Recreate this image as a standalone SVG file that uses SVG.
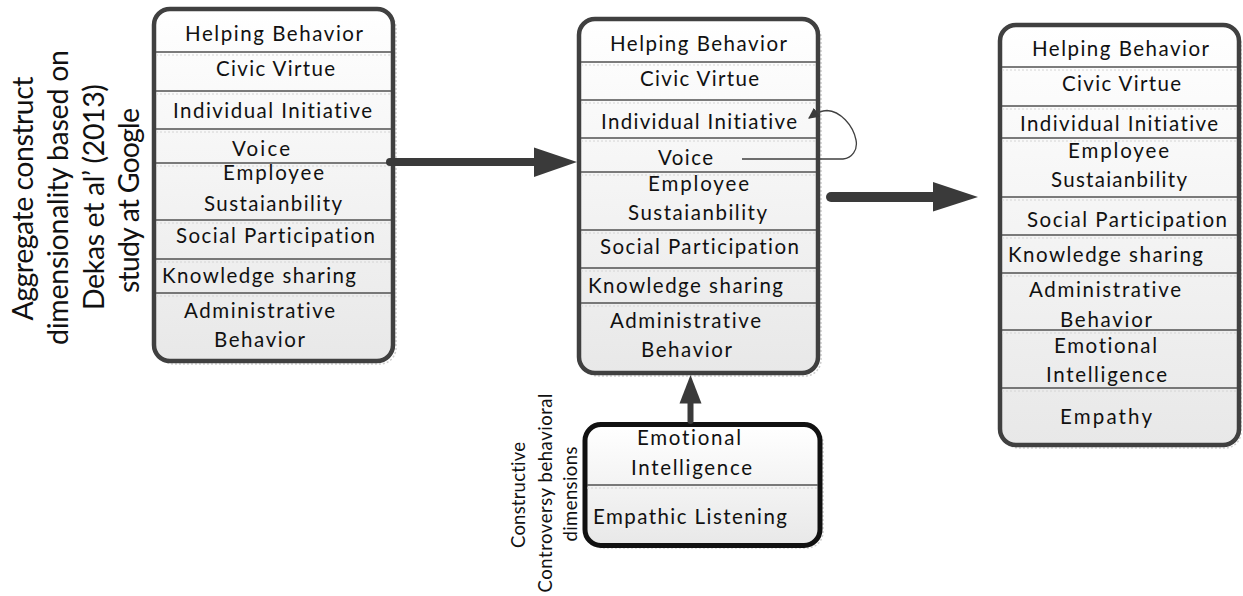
<svg xmlns="http://www.w3.org/2000/svg" width="1243" height="596" viewBox="0 0 1243 596">
<style>
text{font-variant-ligatures:none;font-feature-settings:"liga" 0,"clig" 0}
.t{font-family:Lato,"Liberation Sans",sans-serif;font-size:20.5px;fill:#111;text-anchor:middle}
.rot{font-family:Lato,"Liberation Sans",sans-serif;fill:#111;text-anchor:middle}
.box{fill:url(#g);stroke:#404040;stroke-width:4.5}
.box2{fill:url(#g);stroke:#111;stroke-width:5}
.sh{fill:none;stroke:#cfcfcf;stroke-width:1.5;stroke-dasharray:2 2}
.dv{stroke:#505050;stroke-width:1.3}
.dl{stroke:#d4d4d4;stroke-width:1;stroke-dasharray:2 2}
.shaft{stroke:#3a3a3a;stroke-linecap:round;fill:none}
.head{fill:#3a3a3a}
</style>
<defs>
<linearGradient id="g" x1="0" y1="0" x2="0" y2="1">
<stop offset="0" stop-color="#ffffff"/>
<stop offset="1" stop-color="#e8e8e8"/>
</linearGradient>
<marker id="am" viewBox="0 0 10 10" refX="9" refY="5" markerWidth="11" markerHeight="11" markerUnits="userSpaceOnUse" orient="auto">
<path d="M0,0 L10,5 L0,10 z" fill="#3a3a3a"/>
</marker>
</defs>

<g id="label-left">
<text class="rot" font-size="28.5" transform="translate(33,198.5) rotate(-90)" textLength="244" lengthAdjust="spacing">Aggregate construct</text>
<text class="rot" font-size="28.5" transform="translate(68,197.5) rotate(-90)" textLength="295" lengthAdjust="spacing">dimensionality based on</text>
<text class="rot" font-size="28.5" transform="translate(103.5,197) rotate(-90)" textLength="226" lengthAdjust="spacing">Dekas et al’ (2013)</text>
<text class="rot" font-size="28.5" transform="translate(139,200.5) rotate(-90)" textLength="185" lengthAdjust="spacing">study at Google</text>
</g>

<g id="label-bottom">
<text class="rot" font-size="18.5" transform="translate(525,495) rotate(-90)" textLength="106" lengthAdjust="spacing">Constructive</text>
<text class="rot" font-size="18.5" transform="translate(552,493) rotate(-90)" textLength="199" lengthAdjust="spacing">Controversy behavioral</text>
<text class="rot" font-size="18.5" transform="translate(577,494) rotate(-90)" textLength="95" lengthAdjust="spacing">dimensions</text>
</g>

<g id="box-left">
<rect class="sh" x="157" y="12" width="239" height="352" rx="16"/>
<rect class="box" x="154" y="9" width="239" height="352" rx="16"/>
<g>
<line class="dv" x1="156" y1="52" x2="391" y2="52"/><line class="dl" x1="156" y1="55" x2="391" y2="55"/>
<line class="dv" x1="156" y1="91" x2="391" y2="91"/><line class="dl" x1="156" y1="94" x2="391" y2="94"/>
<line class="dv" x1="156" y1="129" x2="391" y2="129"/><line class="dl" x1="156" y1="132" x2="391" y2="132"/>
<line class="dv" x1="156" y1="163" x2="391" y2="163"/><line class="dl" x1="156" y1="166" x2="391" y2="166"/>
<line class="dv" x1="156" y1="220" x2="391" y2="220"/><line class="dl" x1="156" y1="223" x2="391" y2="223"/>
<line class="dv" x1="156" y1="259" x2="391" y2="259"/><line class="dl" x1="156" y1="262" x2="391" y2="262"/>
<line class="dv" x1="156" y1="293" x2="391" y2="293"/><line class="dl" x1="156" y1="296" x2="391" y2="296"/>
</g>
<text class="t" x="274" y="41" textLength="178" lengthAdjust="spacing">Helping Behavior</text>
<text class="t" x="275.5" y="76" textLength="119" lengthAdjust="spacing">Civic Virtue</text>
<text class="t" x="272.5" y="118" textLength="199" lengthAdjust="spacing">Individual Initiative</text>
<text class="t" x="261" y="156" textLength="58" lengthAdjust="spacing">Voice</text>
<text class="t" x="273.5" y="180" textLength="101" lengthAdjust="spacing">Employee</text>
<text class="t" x="273" y="211" textLength="138" lengthAdjust="spacing">Sustaianbility</text>
<text class="t" x="275.5" y="243" textLength="199" lengthAdjust="spacing">Social Participation</text>
<text class="t" x="259" y="282.5" textLength="194" lengthAdjust="spacing">Knowledge sharing</text>
<text class="t" x="259.5" y="318" textLength="151" lengthAdjust="spacing">Administrative</text>
<text class="t" x="259.5" y="347" textLength="91" lengthAdjust="spacing">Behavior</text>
</g>

<g id="box-middle">
<rect class="sh" x="582" y="22" width="239" height="354" rx="16"/>
<rect class="box" x="579" y="19" width="239" height="354" rx="16"/>
<g>
<line class="dv" x1="581" y1="62" x2="816" y2="62"/><line class="dl" x1="581" y1="65" x2="816" y2="65"/>
<line class="dv" x1="581" y1="100" x2="816" y2="100"/><line class="dl" x1="581" y1="103" x2="816" y2="103"/>
<line class="dv" x1="581" y1="138" x2="816" y2="138"/><line class="dl" x1="581" y1="141" x2="816" y2="141"/>
<line class="dv" x1="581" y1="172" x2="816" y2="172"/><line class="dl" x1="581" y1="175" x2="816" y2="175"/>
<line class="dv" x1="581" y1="230" x2="816" y2="230"/><line class="dl" x1="581" y1="233" x2="816" y2="233"/>
<line class="dv" x1="581" y1="268" x2="816" y2="268"/><line class="dl" x1="581" y1="271" x2="816" y2="271"/>
<line class="dv" x1="581" y1="303" x2="816" y2="303"/><line class="dl" x1="581" y1="306" x2="816" y2="306"/>
</g>
<text class="t" x="698.5" y="51" textLength="177" lengthAdjust="spacing">Helping Behavior</text>
<text class="t" x="699.5" y="86" textLength="119" lengthAdjust="spacing">Civic Virtue</text>
<text class="t" x="699" y="128.5" textLength="196" lengthAdjust="spacing">Individual Initiative</text>
<text class="t" x="685.5" y="165" textLength="55" lengthAdjust="spacing">Voice</text>
<text class="t" x="698.5" y="190.5" textLength="101" lengthAdjust="spacing">Employee</text>
<text class="t" x="697.5" y="220" textLength="139" lengthAdjust="spacing">Sustaianbility</text>
<text class="t" x="699.5" y="254" textLength="199" lengthAdjust="spacing">Social Participation</text>
<text class="t" x="685.5" y="292.5" textLength="195" lengthAdjust="spacing">Knowledge sharing</text>
<text class="t" x="685.5" y="328" textLength="151" lengthAdjust="spacing">Administrative</text>
<text class="t" x="686.5" y="357" textLength="91" lengthAdjust="spacing">Behavior</text>
</g>

<g id="box-right">
<rect class="sh" x="1003" y="28" width="238" height="420" rx="16"/>
<rect class="box" x="1000" y="25" width="239" height="420" rx="16"/>
<g>
<line class="dv" x1="1002" y1="67" x2="1237" y2="67"/><line class="dl" x1="1002" y1="70" x2="1237" y2="70"/>
<line class="dv" x1="1002" y1="106" x2="1237" y2="106"/><line class="dl" x1="1002" y1="109" x2="1237" y2="109"/>
<line class="dv" x1="1002" y1="138" x2="1237" y2="138"/><line class="dl" x1="1002" y1="141" x2="1237" y2="141"/>
<line class="dv" x1="1002" y1="197" x2="1237" y2="197"/><line class="dl" x1="1002" y1="200" x2="1237" y2="200"/>
<line class="dv" x1="1002" y1="235" x2="1237" y2="235"/><line class="dl" x1="1002" y1="238" x2="1237" y2="238"/>
<line class="dv" x1="1002" y1="273" x2="1237" y2="273"/><line class="dl" x1="1002" y1="276" x2="1237" y2="276"/>
<line class="dv" x1="1002" y1="330" x2="1237" y2="330"/><line class="dl" x1="1002" y1="333" x2="1237" y2="333"/>
<line class="dv" x1="1002" y1="388" x2="1237" y2="388"/><line class="dl" x1="1002" y1="391" x2="1237" y2="391"/>
</g>
<text class="t" x="1120.5" y="55.5" textLength="177" lengthAdjust="spacing">Helping Behavior</text>
<text class="t" x="1121.5" y="91" textLength="119" lengthAdjust="spacing">Civic Virtue</text>
<text class="t" x="1119" y="130.5" textLength="198" lengthAdjust="spacing">Individual Initiative</text>
<text class="t" x="1118.5" y="157.5" textLength="101" lengthAdjust="spacing">Employee</text>
<text class="t" x="1119" y="187" textLength="136" lengthAdjust="spacing">Sustaianbility</text>
<text class="t" x="1127" y="227" textLength="200" lengthAdjust="spacing">Social Participation</text>
<text class="t" x="1105.5" y="262" textLength="195" lengthAdjust="spacing">Knowledge sharing</text>
<text class="t" x="1105" y="296.5" textLength="152" lengthAdjust="spacing">Administrative</text>
<text class="t" x="1106" y="326.5" textLength="92" lengthAdjust="spacing">Behavior</text>
<text class="t" x="1105.5" y="352.5" textLength="103" lengthAdjust="spacing">Emotional</text>
<text class="t" x="1106.5" y="382" textLength="121" lengthAdjust="spacing">Intelligence</text>
<text class="t" x="1106" y="424" textLength="92" lengthAdjust="spacing">Empathy</text>
</g>

<g id="box-bottom">
<rect class="sh" x="588" y="427" width="235" height="121" rx="16"/>
<rect class="box2" x="585" y="424.5" width="235" height="121" rx="16"/>
<line class="dv" x1="587" y1="485" x2="818" y2="485"/><line class="dl" x1="587" y1="488" x2="818" y2="488"/>
<text class="t" x="689" y="445" textLength="104" lengthAdjust="spacing">Emotional</text>
<text class="t" x="691.5" y="475" textLength="121" lengthAdjust="spacing">Intelligence</text>
<text class="t" x="690" y="524" textLength="194" lengthAdjust="spacing">Empathic Listening</text>
</g>

<g id="connectors">
<line class="shaft" x1="390" y1="162" x2="536" y2="162" stroke-width="8"/>
<polygon class="head" points="534,147.5 577,162 534,177"/>
<line class="shaft" x1="831" y1="197" x2="935" y2="197" stroke-width="10"/>
<polygon class="head" points="933,182 978,197 933,211.5"/>
<line class="shaft" x1="690.5" y1="421" x2="690.5" y2="400" stroke-width="6" stroke-linecap="butt"/>
<polygon class="head" points="679.5,403.5 690.5,375 701.5,403.5"/>
<path d="M742,159 H843 C852,158 858,150 856,140 C853,125 840,111 827,110.5 C821,110.5 816,113 809,118" fill="none" stroke="#404040" stroke-width="1.3" marker-end="url(#am)"/>
</g>
</svg>
